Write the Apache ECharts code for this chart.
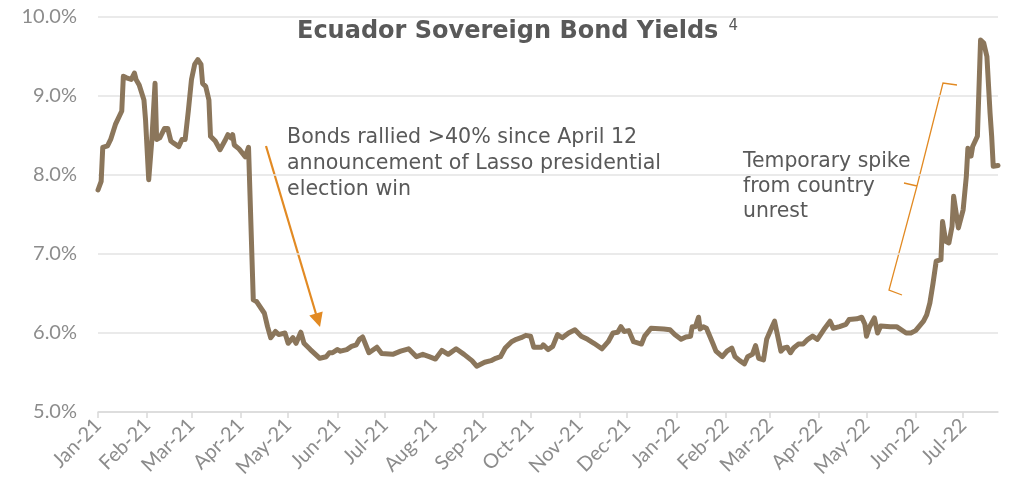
<!DOCTYPE html>
<html>
<head>
<meta charset="utf-8">
<script src="https://cdn.jsdelivr.net/npm/echarts@6/dist/echarts.min.js"></script>
<style>html,body{margin:0;padding:0;background:#fff;}#c{width:1022px;height:492px;}</style>
</head>
<body>
<div id="c"></div>
<script>
const titleText = 'Ecuador Sovereign Bond Yields';
const titleNote = '4';
const note1 = 'Bonds rallied >40% since April 12\nannouncement of Lasso presidential\nelection win';
const note2 = 'Temporary spike\nfrom country\nunrest';
const monthNames = ['Jan','Feb','Mar','Apr','May','Jun','Jul','Aug','Sep','Oct','Nov','Dec'];
const startDate = '2021-01-01';
const endDate = '2022-07-23';
const yTicks = [5, 6, 7, 8, 9, 10];

const dates = [
'2021-01-01','2021-01-03','2021-01-04','2021-01-07','2021-01-09','2021-01-12','2021-01-16','2021-01-17','2021-01-19','2021-01-22',
'2021-01-24','2021-01-25','2021-01-27','2021-01-30','2021-01-31','2021-02-02','2021-02-04','2021-02-06','2021-02-07','2021-02-09',
'2021-02-12','2021-02-14','2021-02-16','2021-02-18','2021-02-21','2021-02-23','2021-02-25','2021-02-27','2021-03-01','2021-03-03',
'2021-03-05','2021-03-07','2021-03-08','2021-03-10','2021-03-12','2021-03-13','2021-03-16','2021-03-19','2021-03-22','2021-03-24',
'2021-03-26','2021-03-27','2021-03-28','2021-03-31','2021-04-02','2021-04-04','2021-04-06','2021-04-07','2021-04-09','2021-04-11',
'2021-04-12','2021-04-16','2021-04-18','2021-04-20','2021-04-23','2021-04-25','2021-04-29','2021-05-01','2021-05-04','2021-05-06',
'2021-05-09','2021-05-11','2021-05-15','2021-05-21','2021-05-25','2021-05-27','2021-05-29','2021-06-01','2021-06-03','2021-06-07',
'2021-06-10','2021-06-13','2021-06-15','2021-06-17','2021-06-21','2021-06-26','2021-06-29','2021-07-06','2021-07-11','2021-07-16',
'2021-07-21','2021-07-25','2021-07-29','2021-08-02','2021-08-06','2021-08-10','2021-08-15','2021-08-20','2021-08-25','2021-08-28',
'2021-09-02','2021-09-06','2021-09-09','2021-09-12','2021-09-15','2021-09-19','2021-09-22','2021-09-25','2021-09-28','2021-10-01',
'2021-10-03','2021-10-08','2021-10-09','2021-10-12','2021-10-15','2021-10-18','2021-10-21','2021-10-25','2021-10-29','2021-11-02',
'2021-11-06','2021-11-10','2021-11-15','2021-11-19','2021-11-22','2021-11-25','2021-11-27','2021-11-29','2021-12-02','2021-12-05',
'2021-12-10','2021-12-12','2021-12-16','2021-12-24','2021-12-28','2021-12-31','2022-01-04','2022-01-07','2022-01-10','2022-01-11',
'2022-01-13','2022-01-15','2022-01-16','2022-01-18','2022-01-20','2022-01-24','2022-01-26','2022-01-30','2022-02-02','2022-02-05',
'2022-02-07','2022-02-10','2022-02-13','2022-02-15','2022-02-18','2022-02-20','2022-02-22','2022-02-25','2022-02-27','2022-03-02',
'2022-03-04','2022-03-06','2022-03-08','2022-03-10','2022-03-12','2022-03-14','2022-03-16','2022-03-19','2022-03-22','2022-03-25',
'2022-03-28','2022-03-31','2022-04-04','2022-04-08','2022-04-10','2022-04-14','2022-04-18','2022-04-20','2022-04-25','2022-04-28',
'2022-04-30','2022-05-01','2022-05-03','2022-05-06','2022-05-08','2022-05-10','2022-05-16','2022-05-20','2022-05-26','2022-05-29',
'2022-06-01','2022-06-06','2022-06-08','2022-06-10','2022-06-12','2022-06-14','2022-06-17','2022-06-18','2022-06-20','2022-06-22',
'2022-06-24','2022-06-25','2022-06-28','2022-07-01','2022-07-03','2022-07-04','2022-07-06','2022-07-07','2022-07-10','2022-07-12',
'2022-07-14','2022-07-16','2022-07-18','2022-07-19','2022-07-20','2022-07-23'
];
const yields = [
7.81,7.92,8.35,8.37,8.45,8.64,8.81,9.25,9.23,9.21,
9.29,9.21,9.14,8.95,8.70,7.94,8.45,9.16,8.45,8.47,
8.59,8.59,8.43,8.40,8.36,8.45,8.45,8.81,9.21,9.40,
9.46,9.40,9.16,9.12,8.95,8.49,8.43,8.32,8.43,8.51,
8.47,8.51,8.38,8.33,8.28,8.23,8.35,8.33,6.42,6.40,
6.38,6.25,6.08,5.94,6.02,5.98,6.00,5.87,5.94,5.87,
6.01,5.87,5.79,5.68,5.70,5.75,5.75,5.79,5.77,5.79,
5.83,5.85,5.92,5.95,5.75,5.82,5.74,5.73,5.77,5.80,
5.70,5.73,5.70,5.67,5.78,5.73,5.80,5.73,5.65,5.58,
5.63,5.65,5.68,5.70,5.81,5.89,5.92,5.94,5.97,5.96,
5.82,5.82,5.85,5.79,5.83,5.98,5.94,6.00,6.04,5.96,
5.92,5.87,5.80,5.89,6.00,6.01,6.08,6.02,6.03,5.89,
5.86,5.96,6.06,6.05,6.04,5.98,5.92,5.95,5.96,6.08,
6.08,6.20,6.05,6.08,6.06,5.87,5.77,5.70,5.77,5.81,
5.70,5.65,5.61,5.70,5.73,5.84,5.68,5.66,5.92,6.06,
6.15,5.96,5.77,5.81,5.82,5.75,5.81,5.86,5.86,5.92,
5.96,5.92,6.04,6.15,6.06,6.08,6.11,6.17,6.18,6.20,
6.11,5.96,6.08,6.19,6.00,6.09,6.08,6.08,6.00,6.00,
6.03,6.15,6.23,6.38,6.63,6.91,6.93,7.41,7.16,7.14,
7.35,7.73,7.33,7.56,7.98,8.34,8.24,8.36,8.49,9.71,
9.67,9.50,8.78,8.49,8.11,8.12
];

// build daily category axis
function fmt(d){ return d.toISOString().slice(0,10); }
const days = [];
for (let t = Date.parse(startDate + 'T00:00:00Z'); t <= Date.parse(endDate + 'T00:00:00Z'); t += 86400000) days.push(fmt(new Date(t)));
const lookup = {};
dates.forEach((d, i) => { lookup[d] = yields[i]; });
const seriesData = days.map(d => (d in lookup ? lookup[d] : null));
const isMonthStart = (i, v) => v.slice(8) === '01';

const chart = echarts.init(document.getElementById('c'), null, {renderer: 'canvas'});
const FONT = 'Lato';
const NOTE_FONT = '"DejaVu Sans"';
const orange = '#E28A23';
chart.setOption({
  animation: false,
  backgroundColor: '#ffffff',
  title: {
    text: '{a|' + titleText + '}  {b|' + titleNote + '}',
    left: 292, top: 14,
    textStyle: {
      rich: {
        a: {fontFamily: NOTE_FONT, fontWeight: 'bold', fontSize: 24, color: '#595959'},
        b: {fontFamily: NOTE_FONT, fontWeight: 'normal', fontSize: 15, color: '#595959', verticalAlign: 'top', padding: [0,0,10,0]}
      }
    }
  },
  grid: {left: 98, right: 24, top: 17, bottom: 80, containLabel: false},
  xAxis: {
    type: 'category',
    data: days,
    boundaryGap: false,
    axisLine: {show: true, lineStyle: {color: '#d9d9d9', width: 1.5}},
    axisTick: {show: true, interval: isMonthStart, length: 6, lineStyle: {color: '#d9d9d9', width: 1.5}},
    axisLabel: {
      interval: isMonthStart, rotate: 45, margin: 10,
      fontFamily: FONT, fontSize: 20, color: '#8c8c8c',
      formatter: v => monthNames[+v.slice(5,7) - 1] + '-' + v.slice(2,4)
    },
    splitLine: {show: false}
  },
  yAxis: {
    type: 'value', min: yTicks[0], max: yTicks[yTicks.length-1], interval: 1,
    axisLine: {show: false}, axisTick: {show: false},
    axisLabel: {margin: 21, fontFamily: FONT, fontSize: 20, color: '#8c8c8c', formatter: v => v.toFixed(1) + '%'},
    splitLine: {show: true, lineStyle: {color: '#e3e3e3', width: 1.5}}
  },
  series: [{
    type: 'line', data: seriesData, connectNulls: true, showSymbol: false, symbol: 'none',
    lineStyle: {color: '#8B765B', width: 5, join: 'round', cap: 'round'}
  }],
  graphic: [
    {type: 'text', left: 287, top: 125, style: {text: note1, font: '20.6px "DejaVu Sans"', fill: '#595959', lineHeight: 26}},
    {type: 'text', left: 743, top: 149, style: {text: note2, font: '20.4px "DejaVu Sans"', fill: '#595959', lineHeight: 25}},
    {type: 'line', shape: {x1: 266, y1: 146, x2: 316, y2: 314}, style: {stroke: orange, lineWidth: 2.2}},
    {type: 'polygon', shape: {points: [[320, 327], [309.3, 315.6], [322.7, 311.6]]}, style: {fill: orange}},
    {type: 'polyline', shape: {points: [[957, 85], [943, 83], [917, 186], [904, 183], [917, 186], [889, 290], [902, 295]]}, style: {stroke: orange, lineWidth: 1.3, fill: null}}
  ]
});
</script>
</body>
</html>
